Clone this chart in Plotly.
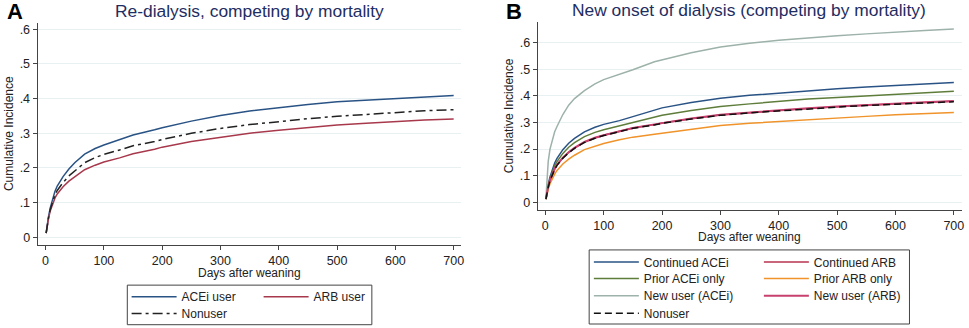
import plotly.graph_objects as go

# ---------------- data ----------------
days = [1, 3, 5, 8, 12, 16, 20, 25, 30, 40, 50, 67, 85, 100, 127, 150, 187, 200,
        250, 300, 350, 400, 450, 500, 550, 600, 650, 700]

# Panel A
a_acei = [0.012, 0.040, 0.060, 0.085, 0.112, 0.132, 0.148, 0.162, 0.175, 0.197, 0.215, 0.240,
          0.256, 0.266, 0.282, 0.295, 0.310, 0.316, 0.335, 0.351, 0.364, 0.374, 0.383, 0.391,
          0.396, 0.401, 0.406, 0.409]
a_arb = [0.012, 0.036, 0.053, 0.076, 0.098, 0.113, 0.125, 0.137, 0.146, 0.162, 0.175, 0.195,
         0.208, 0.217, 0.229, 0.241, 0.254, 0.260, 0.276, 0.289, 0.300, 0.309, 0.317, 0.324,
         0.329, 0.334, 0.338, 0.341]
a_non = [0.012, 0.038, 0.056, 0.080, 0.104, 0.122, 0.135, 0.148, 0.158, 0.177, 0.192, 0.215,
         0.230, 0.239, 0.252, 0.264, 0.276, 0.282, 0.300, 0.314, 0.325, 0.334, 0.342, 0.349,
         0.355, 0.360, 0.365, 0.368]

# Panel B
b_cont_acei = [0.012, 0.045, 0.068, 0.095, 0.125, 0.148, 0.165, 0.183, 0.198, 0.222, 0.240, 0.265,
               0.282, 0.293, 0.307, 0.322, 0.348, 0.355, 0.375, 0.391, 0.402, 0.410, 0.420, 0.427,
               0.433, 0.439, 0.445, 0.450]
b_prior_acei = [0.012, 0.042, 0.063, 0.088, 0.115, 0.137, 0.153, 0.170, 0.184, 0.207, 0.224, 0.247,
                0.263, 0.273, 0.288, 0.301, 0.321, 0.327, 0.345, 0.360, 0.370, 0.379, 0.388, 0.394,
                0.400, 0.406, 0.412, 0.417]
b_new_acei = [0.015, 0.100, 0.155, 0.200, 0.237, 0.265, 0.285, 0.310, 0.330, 0.365, 0.390, 0.420,
              0.445, 0.461, 0.480, 0.498, 0.528, 0.535, 0.562, 0.584, 0.598, 0.609, 0.618, 0.626,
              0.633, 0.640, 0.646, 0.651]
b_cont_arb = [0.012, 0.040, 0.058, 0.082, 0.106, 0.125, 0.140, 0.155, 0.167, 0.188, 0.204, 0.226,
              0.242, 0.252, 0.267, 0.279, 0.292, 0.298, 0.314, 0.328, 0.337, 0.345, 0.353, 0.359,
              0.365, 0.370, 0.375, 0.380]
b_prior_arb = [0.012, 0.035, 0.050, 0.070, 0.090, 0.106, 0.120, 0.133, 0.144, 0.162, 0.177, 0.198,
               0.212, 0.221, 0.235, 0.245, 0.256, 0.260, 0.275, 0.289, 0.297, 0.304, 0.311, 0.317,
               0.323, 0.329, 0.334, 0.338]
b_new_arb = [0.013, 0.041, 0.060, 0.083, 0.107, 0.126, 0.141, 0.155, 0.168, 0.188, 0.205, 0.227,
             0.243, 0.252, 0.266, 0.279, 0.293, 0.298, 0.315, 0.329, 0.338, 0.346, 0.354, 0.360,
             0.366, 0.371, 0.376, 0.381]
b_non = [0.012, 0.039, 0.057, 0.081, 0.105, 0.124, 0.139, 0.153, 0.166, 0.186, 0.203, 0.225,
         0.241, 0.251, 0.265, 0.278, 0.291, 0.297, 0.313, 0.327, 0.336, 0.344, 0.352, 0.358,
         0.364, 0.369, 0.374, 0.378]

x_ticks = [0, 100, 200, 300, 400, 500, 600, 700]
y_ticks = [0, 0.1, 0.2, 0.3, 0.4, 0.5, 0.6]
y_ticktext = ["0", ".1", ".2", ".3", ".4", ".5", ".6"]

# ---------------- figure ----------------
W, H = 969, 328
FONT = "Liberation Sans, Arial, sans-serif"
NAVY = "#2a5385"
MAROON = "#a8394c"
GREEN = "#5e7d3a"
TEAL = "#9db2a9"
ORANGE = "#f0932a"
CRAN = "#b8334f"
PINK = "#c8406e"
TXT = "#222222"

def px(x):
    return x / W

def py(y):
    return (H - y) / H

fig = go.Figure()

def add(x, y, name, color, xa, ya, legend, dash="solid", width=1.5):
    fig.add_trace(go.Scatter(x=x, y=y, mode="lines", name=name,
                             line=dict(color=color, width=width, dash=dash),
                             xaxis=xa, yaxis=ya, legend=legend, showlegend=True))

# Panel A
add(days, a_acei, "ACEi user", NAVY, "x", "y", "legend")
add(days, a_arb, "ARB user", MAROON, "x", "y", "legend")
add(days, a_non, "Nonuser", "#222222", "x", "y", "legend2", dash="10px,4px,3px,4px")

# Panel B
add(days, b_cont_acei, "Continued ACEi", NAVY, "x2", "y2", "legend3")
add(days, b_cont_arb, "Continued ARB", CRAN, "x2", "y2", "legend3")
add(days, b_prior_acei, "Prior ACEi only", GREEN, "x2", "y2", "legend4")
add(days, b_prior_arb, "Prior ARB only", ORANGE, "x2", "y2", "legend4")
add(days, b_new_acei, "New user (ACEi)", TEAL, "x2", "y2", "legend5")
add(days, b_new_arb, "New user (ARB)", PINK, "x2", "y2", "legend5", width=2)
add(days, b_non, "Nonuser", "#111111", "x2", "y2", "legend6", dash="7px,4px")

axis_common = dict(showline=True, linecolor="#444444", linewidth=1, ticks="outside",
                   ticklen=4, tickcolor="#444444", tickfont=dict(family=FONT, size=12.5, color=TXT),
                   zeroline=False)

fig.update_layout(
    width=W, height=H, margin=dict(l=0, r=0, t=0, b=0),
    paper_bgcolor="white", plot_bgcolor="white",
    font=dict(family=FONT, color=TXT),
    xaxis=dict(domain=[px(37.7), px(462.7)], range=[-13.7, 713], tickvals=x_ticks,
               showgrid=False, anchor="y", **axis_common),
    yaxis=dict(domain=[py(245.7), py(22.7)], range=[-0.022, 0.619], tickvals=y_ticks,
               ticktext=y_ticktext, showgrid=True, gridcolor="#e9f0f1", gridwidth=1,
               anchor="x", **axis_common),
    xaxis2=dict(domain=[px(539.3), px(965)], range=[-13.2, 714], tickvals=x_ticks,
                showgrid=False, anchor="y2", **axis_common),
    yaxis2=dict(domain=[py(210.7), py(21.7)], range=[-0.029, 0.679], tickvals=y_ticks,
                ticktext=y_ticktext, showgrid=True, gridcolor="#e9f0f1", gridwidth=1,
                anchor="x2", **axis_common),
)

leg_common = dict(orientation="h", xanchor="left", yanchor="middle", bgcolor="rgba(0,0,0,0)",
                  borderwidth=0, font=dict(family=FONT, size=12, color=TXT),
                  itemwidth=45, itemclick=False, itemdoubleclick=False, tracegroupgap=0)
fig.update_layout(
    legend=dict(x=px(127), y=py(297.7), entrywidth=72, **leg_common),
    legend2=dict(x=px(127), y=py(314.7), entrywidth=72, **leg_common),
    legend3=dict(x=px(590.7), y=py(262.7), entrywidth=110, **leg_common),
    legend4=dict(x=px(590.7), y=py(279.3), entrywidth=110, **leg_common),
    legend5=dict(x=px(590.7), y=py(296.7), entrywidth=110, **leg_common),
    legend6=dict(x=px(590.7), y=py(314.3), entrywidth=110, **leg_common),
)

# legend frames
fig.add_shape(type="rect", xref="paper", yref="paper", x0=px(127.7), x1=px(373),
              y0=py(325.7), y1=py(286), line=dict(color="#444444", width=1))
fig.add_shape(type="rect", xref="paper", yref="paper", x0=px(591), x1=px(912.3),
              y0=py(325), y1=py(250.7), line=dict(color="#444444", width=1))

TITLE_COLOR = "#1e2d62"
ann = [
    dict(text="<b>A</b>", x=px(15.5), y=py(12), font=dict(size=22, color="#000000")),
    dict(text="<b>B</b>", x=px(515.5), y=py(11.5), font=dict(size=22, color="#000000")),
    dict(text="Re-dialysis, competing by mortality", x=px(250), y=py(11.5),
         font=dict(size=17.4, color=TITLE_COLOR)),
    dict(text="New onset of dialysis (competing by mortality)", x=px(751.7), y=py(10.5),
         font=dict(size=17.4, color=TITLE_COLOR)),
    dict(text="Days after weaning", x=px(250), y=py(273.5), font=dict(size=12, color=TXT)),
    dict(text="Days after weaning", x=px(751.7), y=py(238.2), font=dict(size=12, color=TXT)),
    dict(text="Cumulative Incidence", x=px(8.5), y=py(134), textangle=-90,
         font=dict(size=12, color=TXT)),
    dict(text="Cumulative Incidence", x=px(510), y=py(116.2), textangle=-90,
         font=dict(size=12, color=TXT)),
]
for a in ann:
    a["font"]["family"] = FONT
    fig.add_annotation(xref="paper", yref="paper", xanchor="center", yanchor="middle",
                       showarrow=False, **a)

fig.write_html("out.html", config={"displayModeBar": False},
               post_script="document.body.style.margin='0';document.body.style.overflow='hidden';")
